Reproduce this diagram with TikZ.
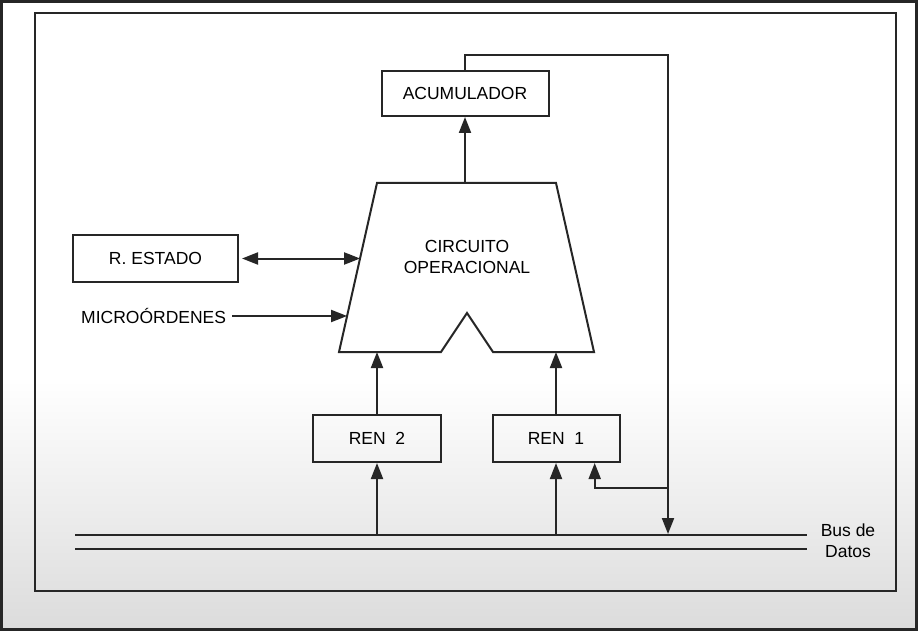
\documentclass[tikz,border=0pt]{standalone}
\usepackage{fontspec}
\setmainfont{Liberation Sans}
\usetikzlibrary{arrows.meta,calc}
\begin{document}
\begin{tikzpicture}[x=1pt,y=-1pt,
  ln/.style={line width=2pt, draw=black!85},
  arr/.style={ln,-{Triangle[length=16pt,width=12pt]}},
  darr/.style={ln,{Triangle[length=16pt,width=12pt]}-{Triangle[length=16pt,width=12pt]}},
  txt/.style={font=\fontsize{17.5}{21}\selectfont, text=black, inner sep=0pt},
  box/.style={draw, ln, txt, minimum height=47pt}]
% page and background
\useasboundingbox (0,0) rectangle (918,631);
\fill[white] (0,0) rectangle (918,631);
\shade[top color=white, bottom color=black!14] (0,380) rectangle (918,631);
\draw[line width=2.6pt, draw=black!85] (1.5,1.3) rectangle (916.5,629.7);
\draw[line width=2pt, draw=black!85] (35,13.5) rectangle (895.5,591);
% boxes
\node[box, minimum width=167pt, minimum height=45pt] (acc) at (465,93.5) {ACUMULADOR};
\node[box, minimum width=165pt] (rest) at (155.5,258.5) {R. ESTADO};
\node[box, minimum width=128pt] (ren2) at (377,438.5) {REN\hspace{0.55em}2};
\node[box, minimum width=127pt] (ren1) at (556,438.5) {REN\hspace{0.55em}1};
% operational circuit (trapezoid with notch)
\coordinate (tl) at (377,183);
\coordinate (tr) at (556,183);
\coordinate (br) at (594,352);
\coordinate (bl) at (339,352);
\coordinate (n1) at (441,352);
\coordinate (n2) at (467,313);
\coordinate (n3) at (493,352);
\draw[ln, line join=miter] (tl) -- (tr) -- (br) -- (n3) -- (n2) -- (n1) -- (bl) -- cycle;
\node[txt, align=center] (circ) at (467,257) {CIRCUITO\\OPERACIONAL};
% inputs on the left edge
\coordinate (inEst) at ($(tl)!0.444!(bl)$);
\coordinate (inMic) at ($(tl)!0.787!(bl)$);
\node[txt, anchor=west] (mic) at (81,316) {MICROÓRDENES};
\draw[darr] (rest.east) ++(3,0) coordinate (restR) -- (restR -| inEst);
\draw[arr] ($(mic.east)+(6,0)$) -- (mic.east -| inMic);
% data bus
\coordinate (busL1) at (75,535);
\coordinate (busR1) at (807,535);
\coordinate (busL2) at (75,549);
\coordinate (busR2) at (807,549);
\draw[ln] (busL1) -- (busR1);
\draw[ln] (busL2) -- (busR2);
\node[txt, align=center] (bus) at (848,541) {Bus de\\Datos};
% vertical paths
\draw[arr] (acc.south |- tl) -- (acc.south);
\draw[arr] (ren2.north) -- (ren2.north |- bl);
\draw[arr] (ren1.north) -- (ren1.north |- br);
\draw[arr] (ren2.south |- busL1) -- (ren2.south);
\draw[arr] (ren1.south |- busL1) -- (ren1.south);
% feedback from accumulator to bus and REN 1
\coordinate (fbTop) at (668,55);
\coordinate (fbBus) at (668,534);
\coordinate (fbBr) at (668,488);
\coordinate (ren1in) at ($(ren1.south west)!0.8!(ren1.south east)$);
\draw[arr] (acc.north) |- (fbTop) -- (fbBus);
\draw[arr] (fbBr) -| (ren1in);
\end{tikzpicture}
\end{document}
